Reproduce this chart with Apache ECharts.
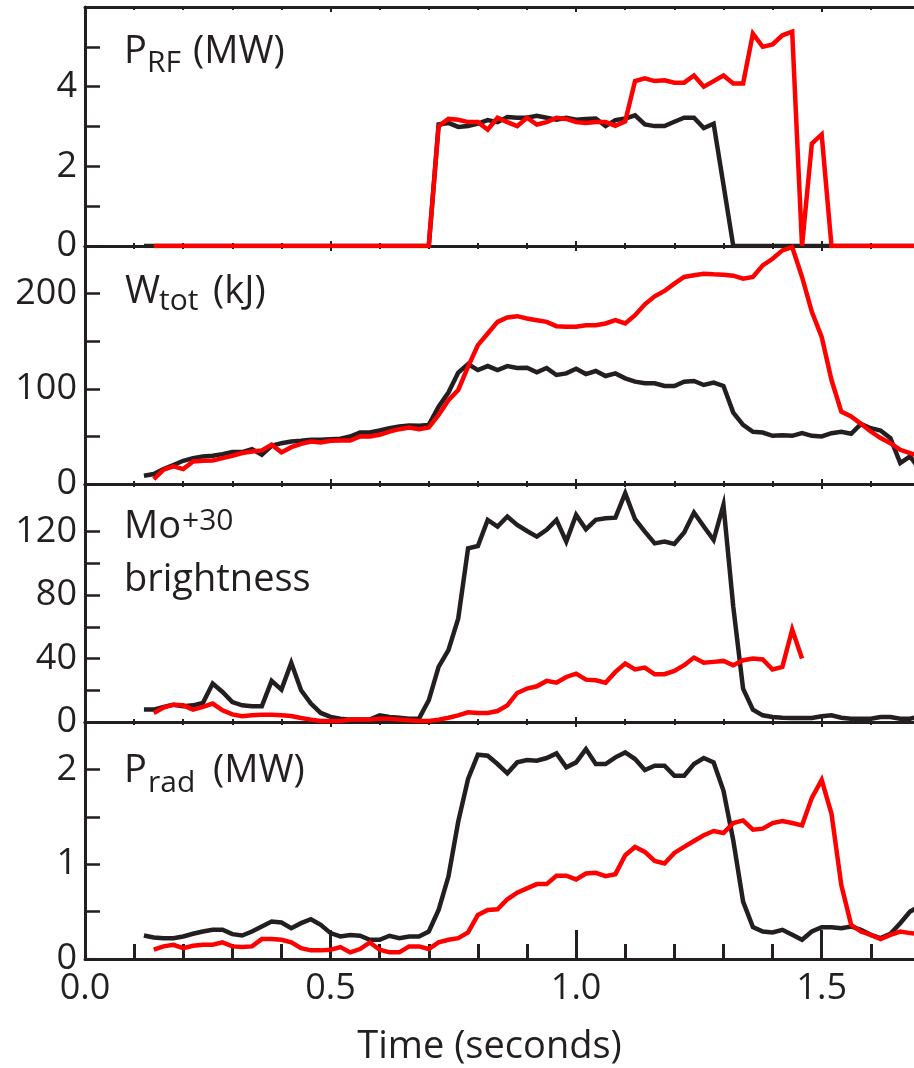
<!DOCTYPE html>
<html><head><meta charset="utf-8">
<script src="https://cdn.jsdelivr.net/npm/echarts@6/dist/echarts.min.js"></script>
<style>html,body{margin:0;padding:0;background:#fff}#c{width:914px;height:1068px}</style>
</head><body><div id="c"></div>
<script>
// Time samples (seconds)
const times = [
0.12,0.14,0.16,0.18,0.20,0.22,0.24,0.26,0.28,0.30,
0.32,0.34,0.36,0.38,0.40,0.42,0.44,0.46,0.48,0.50,
0.52,0.54,0.56,0.58,0.60,0.62,0.64,0.66,0.68,0.70,
0.72,0.74,0.76,0.78,0.80,0.82,0.84,0.86,0.88,0.90,
0.92,0.94,0.96,0.98,1.00,1.02,1.04,1.06,1.08,1.10,
1.12,1.14,1.16,1.18,1.20,1.22,1.24,1.26,1.28,1.30,
1.32,1.34,1.36,1.38,1.40,1.42,1.44,1.46,1.48,1.50,
1.52,1.54,1.56,1.58,1.60,1.62,1.64,1.66,1.68,1.70];

// P_RF (MW)
const prfBlack = [
0,0,0,0,0,0,0,0,0,0,
0,0,0,0,0,0,0,0,0,0,
0,0,0,0,0,0,0,0,0,0,
3.05,3.09,2.99,3.01,3.07,3.16,3.11,3.24,3.22,3.22,
3.27,3.22,3.17,3.22,3.17,3.19,3.20,3.01,3.16,3.20,
3.28,3.05,3.01,3.01,3.12,3.22,3.22,2.96,3.07,1.54,
0,0,0,0,0,0,0,0,0,0,
0,0,0,0,0,0,0,0,0,0];
const prfRed = [
null,0,0,0,0,0,0,0,0,0,
0,0,0,0,0,0,0,0,0,0,
0,0,0,0,0,0,0,0,0,0,
3.01,3.19,3.17,3.11,3.11,2.92,3.22,3.11,3.01,3.22,
3.05,3.11,3.22,3.19,3.11,3.09,3.11,3.11,3.02,3.13,
4.14,4.21,4.14,4.16,4.10,4.10,4.28,4.00,4.14,4.28,
4.08,4.08,5.33,5.00,5.06,5.29,5.38,0,2.57,2.80,
0,0,0,0,0,0,0,0,0,0];

// W_tot (kJ)
const wtotBlack = [
8.7,10.5,15.7,20.0,24.4,27.2,29.0,29.7,31.4,33.5,
33.5,36.6,30.7,40.1,42.9,44.7,45.4,46.4,46.4,47.1,
47.5,49.9,54.1,54.1,56.2,58.6,60.4,61.4,61.1,62.1,
81.3,96.0,117.0,126.0,119.7,123.9,119.7,123.9,121.8,122.2,
117.3,121.8,114.5,116.2,121.1,115.5,118.7,113.4,116.2,111.0,
107.5,105.8,105.8,103.0,103.0,107.5,108.2,104.0,106.5,103.0,
75.0,62.1,54.8,54.1,50.6,51.3,50.6,53.4,50.6,49.9,
53.4,54.8,52.7,63.2,58.6,56.2,48.2,22.0,29.0,15.0];
const wtotRed = [
null,5.2,15.0,18.5,15.7,23.7,24.4,24.8,27.2,29.7,
32.5,34.2,35.3,41.2,33.2,38.7,42.2,44.7,43.6,45.4,
45.7,45.7,49.9,49.9,51.7,55.1,57.6,59.3,57.6,59.3,
72.6,88.0,98.8,123.2,145.9,158.1,170.3,174.9,176.3,173.8,
172.1,170.3,165.8,165.1,165.1,166.8,166.8,168.6,172.1,168.6,
177.3,188.8,197.2,202.8,210.5,217.5,219.2,220.9,220.2,219.9,
218.8,215.7,217.5,229.7,236.6,245.4,248.9,217.5,180.8,154.6,
109.2,76.1,70.9,63.2,55.1,48.2,42.9,35.9,32.5,29.0];

// Mo+30 brightness
const moBlack = [
7.8,7.8,9.5,10.9,9.9,10.5,12.0,24.2,18.9,12.6,
10.5,9.9,9.9,25.9,20.4,37.3,20.0,11.6,5.7,3.2,
2.1,1.5,1.5,1.5,4.2,3.2,2.7,2.1,2.1,13.7,
34.7,45.3,65.3,109.5,110.9,127.4,123.2,129.5,124.2,120.4,
116.8,121.1,127.4,113.7,130.5,121.5,127.4,128.4,128.8,144.2,
127.8,120.0,112.6,113.7,112.2,119.4,132.0,123.2,114.7,136.8,
72.6,21.0,7.8,4.2,3.2,2.7,2.5,2.5,2.5,3.6,
4.2,2.7,2.1,2.1,2.1,3.2,3.2,2.1,2.1,3.6];
const moRed = [
null,5.7,9.1,10.9,10.5,7.8,9.5,11.6,7.4,4.8,
3.6,4.2,4.6,4.6,4.2,3.8,2.5,1.5,0.6,0.6,
0.6,1.5,1.5,1.5,2.1,2.1,1.5,1.1,0.6,0.6,
1.5,2.7,4.2,6.1,5.7,5.7,6.9,10.5,18.3,21.1,
22.5,25.9,24.8,28.4,30.5,26.7,26.3,24.8,31.6,36.8,
33.1,34.3,30.1,30.1,32.2,35.8,40.6,37.3,37.9,38.5,
35.8,38.9,40.0,39.4,33.1,34.7,58.3,40.0,null,null,
null,null,null,null,null,null,null,null,null,null];

// P_rad (MW)
const pradBlack = [
0.248,0.227,0.220,0.220,0.238,0.266,0.290,0.308,0.308,0.262,
0.248,0.290,0.343,0.395,0.385,0.325,0.378,0.420,0.360,0.273,
0.238,0.252,0.245,0.203,0.203,0.245,0.220,0.238,0.238,0.290,
0.518,0.870,1.450,1.900,2.155,2.144,2.057,1.959,2.074,2.099,
2.092,2.120,2.169,2.022,2.074,2.214,2.057,2.057,2.127,2.179,
2.109,1.994,2.039,2.039,1.934,1.934,2.057,2.120,2.074,1.777,
1.252,0.605,0.336,0.290,0.280,0.308,0.255,0.203,0.290,0.336,
0.336,0.325,0.343,0.308,0.255,0.220,0.266,0.378,0.500,0.560];
const pradRed = [
null,0.098,0.133,0.150,0.115,0.140,0.150,0.150,0.175,0.133,
0.126,0.133,0.210,0.210,0.203,0.175,0.115,0.091,0.091,0.098,
0.126,0.070,0.105,0.175,0.098,0.070,0.070,0.133,0.133,0.105,
0.175,0.203,0.220,0.280,0.465,0.518,0.525,0.630,0.700,0.745,
0.790,0.790,0.878,0.878,0.839,0.902,0.909,0.874,0.895,1.095,
1.182,1.130,1.035,1.007,1.119,1.182,1.245,1.305,1.350,1.329,
1.434,1.462,1.364,1.375,1.434,1.455,1.434,1.410,1.700,1.889,
1.532,0.780,0.360,0.290,0.255,0.210,0.255,0.290,0.273,0.266];

// Axis ticks and labels
const xMax = 1.688;
const xMajorTicks = [0, 0.5, 1.0, 1.5];
const xMinorTicks = [0.1,0.2,0.3,0.4,0.6,0.7,0.8,0.9,1.1,1.2,1.3,1.4,1.6];
const xLabels = [0, 0.5, 1.0, 1.5];
const yMax = [6, 250, 150, 2.5];
const yTicks = [[0,1,2,3,4,5],[0,50,100,150,200],[0,20,40,60,80,100,120],[0,0.5,1,1.5,2]];
const yLabels = [[0,2,4],[0,100,200],[0,40,80,120],[0,1,2]];

const INK = '#231f20';
const RED = '#ff0000';
const FONT = '"Open Sans", "Noto Sans", sans-serif';

const gridTops = [7, 246, 484, 722];
const gridHeights = [239, 238, 238, 237];

const grids = gridTops.map((t, i) => ({ left: 85, right: 0, top: t, height: gridHeights[i] }));

function xAx(gi, pos, ticks, len, width, showLine, labels) {
  return {
    type: 'value', gridIndex: gi, position: pos, min: 0, max: xMax,
    axisLine: { show: showLine, onZero: false, lineStyle: { color: INK, width: 3 } },
    axisTick: { show: true, inside: true, length: len, customValues: ticks, lineStyle: { color: INK, width: width } },
    axisLabel: labels ? {
      show: true, customValues: labels, margin: 12, color: INK, fontSize: 36, fontFamily: FONT,
      formatter: v => v.toFixed(1)
    } : { show: false },
    splitLine: { show: false }
  };
}

const xAxes = [];
for (let i = 0; i < 4; i++) {
  const last = i === 3;
  xAxes.push(xAx(i, 'bottom', xMajorTicks, last ? 29 : 5, last ? 3 : 2, true, last ? xLabels : null));
  xAxes.push(xAx(i, 'bottom', xMinorTicks, last ? 15 : 3, last ? 3 : 2, false, null));
  xAxes.push(xAx(i, 'top', xMajorTicks, 5, 2, true, null));
  xAxes.push(xAx(i, 'top', xMinorTicks, 3, 2, false, null));
}

const yAxes = yMax.map((m, i) => ({
  type: 'value', gridIndex: i, min: 0, max: m,
  axisLine: { show: true, onZero: false, lineStyle: { color: INK, width: 3 } },
  axisTick: { show: true, inside: true, length: 15, customValues: yTicks[i], lineStyle: { color: INK, width: 2.5 } },
  axisLabel: { show: true, customValues: yLabels[i], margin: 8, color: INK, fontSize: 36, fontFamily: FONT },
  splitLine: { show: false }
}));

function pairs(vals) { return times.map((t, k) => [t, vals[k]]); }
function line(vals, gi, color, z) {
  return {
    type: 'line', xAxisIndex: gi * 4, yAxisIndex: gi, data: pairs(vals),
    showSymbol: false, symbol: 'none', connectNulls: false, z: z, clip: true,
    lineStyle: { color: color, width: 4.5, join: 'miter' }, itemStyle: { color: color }
  };
}

const series = [
  line(prfBlack, 0, INK, 2), line(prfRed, 0, RED, 3),
  line(wtotBlack, 1, INK, 2), line(wtotRed, 1, RED, 3),
  line(moBlack, 2, INK, 2), line(moRed, 2, RED, 3),
  line(pradBlack, 3, INK, 2), line(pradRed, 3, RED, 3)
];

function txt(s, x, y, size, align) {
  return {
    type: 'text', x: x, y: y, z: 10,
    style: { text: s, fill: INK, font: 'normal ' + size + 'px ' + FONT,
      textAlign: align || 'left', textVerticalAlign: 'middle', verticalAlign: 'middle' }
  };
}

const graphics = [
  txt('P', 124, 52.3, 38), txt('RF', 147, 63.4, 30), txt('(MW)', 193, 52.3, 38),
  txt('W', 125, 292, 38), txt('tot', 159, 301.7, 30), txt('(kJ)', 213, 292, 38),
  txt('Mo', 124, 527, 38), txt('+30', 182, 521.4, 30), txt('brightness', 124, 580.3, 38),
  txt('P', 124, 771.3, 38), txt('rad', 148, 783.4, 30), txt('(MW)', 213, 771.3, 38),
  txt('Time (seconds)', 489.5, 1047.3, 38, 'center')
];

const chart = echarts.init(document.getElementById('c'), null, { renderer: 'canvas' });
chart.setOption({
  animation: false,
  backgroundColor: '#ffffff',
  grid: grids,
  xAxis: xAxes,
  yAxis: yAxes,
  series: series,
  graphic: { elements: graphics }
});
</script>
</body></html>
